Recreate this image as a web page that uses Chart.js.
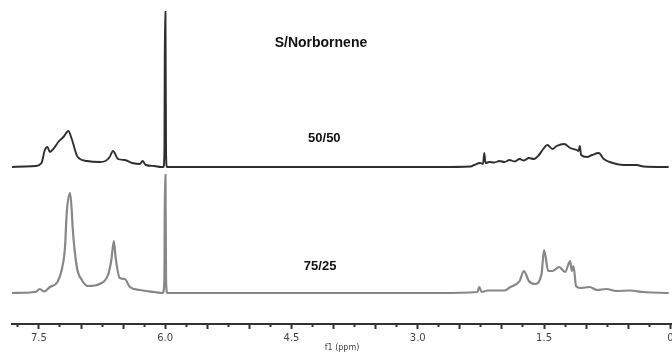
<!DOCTYPE html>
<html><head><meta charset="utf-8">
<script src="https://cdn.jsdelivr.net/npm/chart.js@4/dist/chart.umd.min.js"></script>
<style>html,body{margin:0;padding:0;background:#fff}</style>
</head><body>
<canvas id="c" width="672" height="352"></canvas>
<script>
// 50/50 trace (chemical shift, ppm) and intensity above its baseline (a.u.)
const ppm5050 = [7.82,7.66,7.54,7.47,7.43,7.40,7.37,7.32,7.27,7.21,7.15,7.11,7.04,6.93,6.78,6.71,6.66,6.62,6.56,6.48,6.39,6.30,6.27,6.23,6.13,6.05,6.02,6.01,6.003,5.997,5.99,5.98,5.83,4.50,3.50,2.76,2.37,2.33,2.26,2.225,2.21,2.195,2.15,2.09,2.03,1.97,1.91,1.85,1.79,1.74,1.68,1.62,1.56,1.51,1.46,1.40,1.35,1.26,1.19,1.11,1.09,1.075,1.06,0.99,0.93,0.85,0.79,0.72,0.55,0.40,0.32,0.02];
const int5050 = [0,0.5,1,4,17,20,15,19,25,30,36,28,10,6,5,6,10,16,8,7,4,3,6,2,1,0,0,14,155,155,14,0,0,0,0,0,0.5,2,4,3,14,4,5,4.5,6,5,7,5.5,8,6.5,9,8,12,18,22,18,21,23,19,17,16,21,12,10,12,14,8,5,2,2,0.5,0];
// 75/25 trace
const ppm7525 = [7.82,7.54,7.49,7.44,7.37,7.28,7.23,7.19,7.17,7.13,7.11,7.10,7.05,6.99,6.92,6.78,6.68,6.64,6.61,6.59,6.54,6.48,6.42,6.30,6.13,6.03,6.01,6.003,5.997,5.99,5.975,5.83,4.50,3.50,2.76,2.29,2.27,2.24,2.17,1.97,1.90,1.79,1.74,1.68,1.61,1.53,1.50,1.45,1.40,1.32,1.25,1.19,1.17,1.15,1.12,1.07,0.96,0.87,0.76,0.64,0.48,0.32,0.02];
const int7525 = [0,1,4,1.5,6,11,23,46,80,100,82,66,26,13,7,9,18,33,52,36,15,14,6,3,1,0,12,118,118,12,0,0,0,0,0,1,6,1,2.5,2.5,6,12,22,12,9,19,43,22,22,26,21,32,22,27,7,5,6,3,4,2,2.5,1,0];
// axis tick labels (ppm)
const tickLabels = [7.5, 6.0, 4.5, 3.0, 1.5, 0];
// text labels
const labelTexts = ['S/Norbornene', '50/50', '75/25'];

// layout: vertical stacking offsets of the two traces
const OFFSET_TOP = 157, OFFSET_BOTTOM = 31;
const toPts = (xs, ys, off) => xs.map((x, i) => ({x: x, y: ys[i] + off}));

const annotations = [
  {text: labelTexts[0], ppm: 4.15, y: 281, font: 'bold 14px "Liberation Sans", Arial, sans-serif'},
  {text: labelTexts[1], ppm: 4.11, y: 186, font: 'bold 13px "Liberation Sans", Arial, sans-serif'},
  {text: labelTexts[2], ppm: 4.16, y: 58,  font: 'bold 13px "Liberation Sans", Arial, sans-serif'}
];
const textPlugin = {
  id: 'textLabels',
  afterDatasetsDraw(chart) {
    const {ctx, scales: {x, y}} = chart;
    ctx.save();
    ctx.fillStyle = '#111';
    ctx.textAlign = 'center';
    ctx.textBaseline = 'middle';
    annotations.forEach(a => {
      ctx.font = a.font;
      ctx.fillText(a.text, x.getPixelForValue(a.ppm), y.getPixelForValue(a.y));
    });
    ctx.restore();
  }
};
const isMajor = v => Math.abs(v * 2 - Math.round(v * 2)) < 1e-6;

new Chart(document.getElementById('c'), {
  type: 'line',
  data: {
    datasets: [
      {label: '50/50', data: toPts(ppm5050, int5050, OFFSET_TOP), borderColor: '#2e2e2e', borderWidth: 1.9, pointRadius: 0, cubicInterpolationMode: 'monotone', fill: false},
      {label: '75/25', data: toPts(ppm7525, int7525, OFFSET_BOTTOM), borderColor: '#878787', borderWidth: 2.2, pointRadius: 0, cubicInterpolationMode: 'monotone', fill: false}
    ]
  },
  options: {
    responsive: false, animation: false, devicePixelRatio: 1,
    layout: {padding: {left: 12, right: 0, top: 0, bottom: 0}},
    plugins: {legend: {display: false}, tooltip: {enabled: false}},
    scales: {
      x: {
        type: 'linear', reverse: true, min: -0.02, max: 7.82,
        grid: {
          drawOnChartArea: false, drawTicks: true, tickLength: 5,
          tickColor: '#333',
          tickWidth: 2,
          tickBorderDash: c => (c.tick && isMajor(c.tick.value)) ? [] : [2, 20]
        },
        border: {display: true, color: '#333', width: 2},
        ticks: {
          stepSize: 0.25, includeBounds: false, autoSkip: false, maxRotation: 0, minRotation: 0,
          padding: 4, color: '#444',
          font: {family: 'DejaVu Sans', size: 10, lineHeight: 1},
          callback: v => {
            const m = tickLabels.find(t => Math.abs(t - v) < 1e-6);
            return m === undefined ? '' : (m === 0 ? '0' : m.toFixed(1));
          }
        },
        title: {display: true, text: 'f1 (ppm)', color: '#444', font: {family: 'DejaVu Sans', size: 8, lineHeight: 1}, padding: {top: -3, bottom: 0}},
        afterFit(s) { s.paddingLeft = 0; s.paddingRight = 0; }
      },
      y: {display: false, min: 0, max: 324}
    }
  },
  plugins: [textPlugin]
});
</script>
</body></html>
